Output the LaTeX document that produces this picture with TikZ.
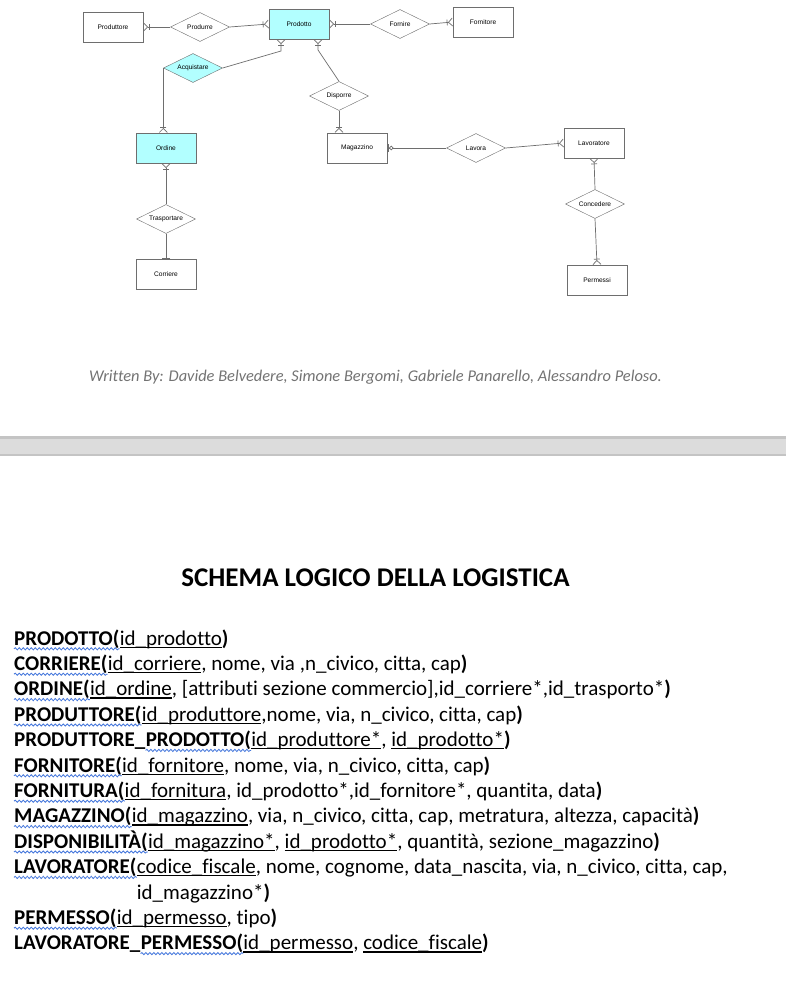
\documentclass[tikz,border=0pt]{standalone}
\usepackage{fontspec}
\setmainfont{Carlito}[Ligatures={NoCommon}]
\newfontfamily\erfont{Liberation Sans}
\usepackage{tikz}
\usetikzlibrary{shapes.geometric, arrows.meta, positioning, decorations.pathmorphing}
\definecolor{erline}{RGB}{110,110,110}
\definecolor{ercyan}{RGB}{178,255,255}
\definecolor{spellblue}{RGB}{70,120,220}
\definecolor{bargray}{RGB}{220,220,220}
\definecolor{baredge}{RGB}{196,196,196}
\newsavebox\pkbox
\newcommand{\pk}[1]{\sbox\pkbox{#1}\rlap{\rule[-2.8pt]{\wd\pkbox}{1.2pt}}\usebox\pkbox}
\tikzstyle{entity} = [rectangle, draw=erline, fill=white, minimum width=60pt, minimum height=30pt, inner sep=0pt, font=\erfont\fontsize{6.6}{7}\selectfont]
\tikzstyle{relation} = [diamond, draw=erline, fill=white, aspect=2, minimum width=59pt, minimum height=29pt, inner sep=0pt, font=\erfont\fontsize{6.6}{7}\selectfont]
\tikzstyle{link} = [draw=erline, line width=0.7pt]
\tikzstyle{crowend} = [-{Bar[width=6pt,sep=0.5pt]Straight Barb[reversed,length=4pt,width=8pt]}]
\tikzstyle{crowstart} = [{Straight Barb[reversed,length=4pt,width=8pt]Bar[width=6pt,sep=0.5pt]}-]
\tikzstyle{tbl} = [anchor=base west, inner sep=0pt, font=\fontsize{21}{25}\selectfont\bfseries]
\tikzstyle{attrs} = [anchor=base west, inner sep=0pt, font=\fontsize{21}{25}\selectfont]
\tikzstyle{spell} = [draw=spellblue, line width=0.8pt, decorate, decoration={snake, segment length=4pt, amplitude=1.1pt}]

\begin{document}
\begin{tikzpicture}[x=1pt, y=-1pt]
    \useasboundingbox (0,0) rectangle (786,1006);
    \fill[white] (0,0) rectangle (786,1006);

    % ER diagram - entities and relations
    \node[entity] (produttore) at (113,27) {Produttore};
    \node[relation] (produrre) at (200,27) {Produrre};
    \node[entity, fill=ercyan] (prodotto) at (299,24) {Prodotto};
    \node[relation] (fornire) at (400,24) {Fornire};
    \node[entity] (fornitore) at (483,22) {Fornitore};
    \node[relation, fill=ercyan] (acquistare) at (193,68) {Acquistare};
    \node[relation] (disporre) at (339,96) {Disporre};
    \node[entity, fill=ercyan] (ordine) at (166,148) {Ordine};
    \node[entity] (magazzino) at (357,148) {Magazzino};
    \node[relation] (lavora) at (476,148) {Lavora};
    \node[entity] (lavoratore) at (594,143) {Lavoratore};
    \node[relation] (concedere) at (595,204) {Concedere};
    \node[entity] (permessi) at (597,280) {Permessi};
    \node[relation] (trasportare) at (166,219) {Trasportare};
    \node[entity] (corriere) at (166,274) {Corriere};

    % bends under Prodotto
    \coordinate (kacq) at (281,51);
    \coordinate (kdis) at (318,50);

    % connectors
    \draw[link, crowstart] (produttore) -- (produrre);
    \draw[link, crowend] (produrre.east) -- (prodotto.west);
    \draw[link, crowstart] (prodotto.east) -- (fornire.west);
    \draw[link, crowend] (fornire.east) -- (fornitore.west);
    \draw[link, crowend] (acquistare.east) -- (kacq) -- (kacq |- prodotto.south);
    \draw[link, crowend] (acquistare.west) -- (acquistare.west |- ordine.north);
    \draw[link, crowend] (disporre.north) -- (kdis) -- (kdis |- prodotto.south);
    \draw[link, crowend] (disporre.south) -- (disporre.south |- magazzino.north);
    \draw[link, crowstart] (ordine.south) -- (trasportare.north);
    \draw[link, -{Bar[width=8pt]}] (trasportare.south) -- (corriere.north);
    \draw[link, {Bar[width=8pt,sep=1pt]Circle[open,length=4.5pt,width=4.5pt,fill=white]}-] (magazzino.east) -- (lavora.west);
    \draw[link, crowend] (lavora.east) -- (lavoratore.west);
    \draw[link, crowstart] (lavoratore.south) -- (concedere.north);
    \draw[link, crowend] (concedere.south) -- (permessi.north);

    % authors
    \node[font=\fontsize{16.4}{19}\selectfont\itshape, text=black!55] (authors) at (375.5,377)
        {Written By: Davide Belvedere, Simone Bergomi, Gabriele Panarello, Alessandro Peloso.};

    % page break bar
    \fill[bargray] (0,436) rectangle (786,456);
    \fill[baredge] (0,436) rectangle (786,438.5);
    \fill[baredge] (0,453.5) rectangle (786,456);

    % title
    \node[font=\fontsize{27}{31}\selectfont\bfseries] (title) at (375.5,578) {SCHEMA LOGICO DELLA LOGISTICA};

    % logical schema
    \node[tbl] (t1) at (14,645) {PRODOTTO(};
    \node[attrs] (a1) at (t1.base east) {\pk{id\_prodotto}\textbf{)}};
    \node[tbl] (t2) at (14,670.4) {CORRIERE(};
    \node[attrs] (a2) at (t2.base east) {\pk{id\_corriere}, nome, via ,n\_civico, citta, cap\textbf{)}};
    \node[tbl] (t3) at (14,695.8) {ORDINE(};
    \node[attrs] (a3) at (t3.base east) {\pk{id\_ordine}, [attributi sezione commercio],id\_corriere*,id\_trasporto*\textbf{)}};
    \node[tbl] (t4) at (14,721.2) {PRODUTTORE(};
    \node[attrs] (a4) at (t4.base east) {\pk{id\_produttore},nome, via, n\_civico, citta, cap\textbf{)}};
    \node[tbl] (t5a) at (14,746.6) {PRODUTTORE\_};
    \node[tbl] (t5) at (t5a.base east) {PRODOTTO(};
    \node[attrs] (a5) at (t5.base east) {\pk{id\_produttore*}, \pk{id\_prodotto*}\textbf{)}};
    \node[tbl] (t6) at (14,772) {FORNITORE(};
    \node[attrs] (a6) at (t6.base east) {\pk{id\_fornitore}, nome, via, n\_civico, citta, cap\textbf{)}};
    \node[tbl] (t7) at (14,797.4) {FORNITURA(};
    \node[attrs] (a7) at (t7.base east) {\pk{id\_fornitura}, id\_prodotto*,id\_fornitore*, quantita, data\textbf{)}};
    \node[tbl] (t8) at (14,822.8) {MAGAZZINO(};
    \node[attrs] (a8) at (t8.base east) {\pk{id\_magazzino}, via, n\_civico, citta, cap, metratura, altezza, capacità\textbf{)}};
    \node[tbl] (t9) at (14,848.2) {DISPONIBILITÀ(};
    \node[attrs] (a9) at (t9.base east) {\pk{id\_magazzino*}, \pk{id\_prodotto*}, quantità, sezione\_magazzino\textbf{)}};
    \node[tbl] (t10) at (14,873.6) {LAVORATORE(};
    \node[attrs] (a10) at (t10.base east) {\pk{codice\_fiscale}, nome, cognome, data\_nascita, via, n\_civico, citta, cap,};
    \node[attrs] (a11) at (a10.base west |- 0,899) {id\_magazzino*\textbf{)}};
    \node[tbl] (t12) at (14,924.4) {PERMESSO(};
    \node[attrs] (a12) at (t12.base east) {\pk{id\_permesso}, tipo\textbf{)}};
    \node[tbl] (t13a) at (14,949.8) {LAVORATORE\_};
    \node[tbl] (t13) at (t13a.base east) {PERMESSO(};
    \node[attrs] (a13) at (t13.base east) {\pk{id\_permesso}, \pk{codice\_fiscale}\textbf{)}};

    % spell check squiggles
    \foreach \t in {t1,t2,t3,t4,t5,t6,t7,t8,t9,t10,t12,t13}
        \draw[spell] ([yshift=-3.8pt]\t.base west) -- ([yshift=-3.8pt]\t.base east);

\end{tikzpicture}
\end{document}
